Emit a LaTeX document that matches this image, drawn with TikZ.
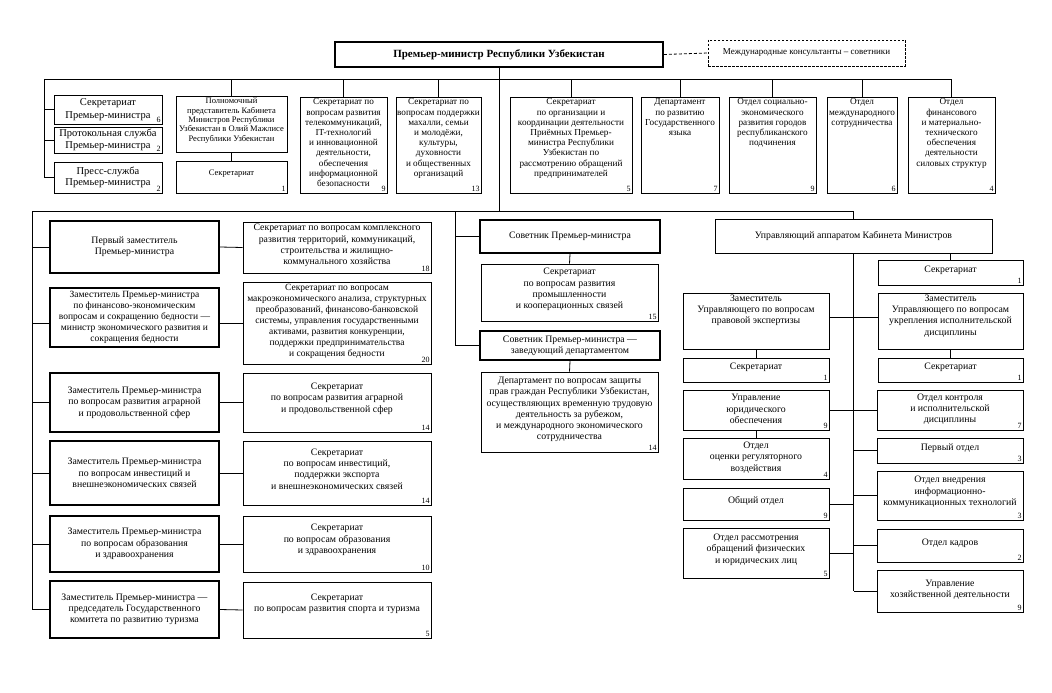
\documentclass[tikz,border=0pt]{standalone}
\usepackage{fontspec}
\setmainfont{Liberation Serif}
\usetikzlibrary{fit,calc}
\tikzset{
  bxthin/.style={draw, line width=0.8pt, inner sep=0pt},
  bxthick/.style={draw, line width=1.8pt, inner sep=0pt},
  bxdash/.style={draw, line width=0.9pt, dash pattern=on 2.5pt off 1.5pt, inner sep=0pt},
  num/.style={anchor=south east, inner sep=1.6pt, font=\fontsize{8}{9}\selectfont},
  fsT/.style={align=center, inner sep=2pt, font=\fontsize{9.2}{10.2}\selectfont},
  fsP/.style={align=center, inner sep=2pt, font=\fontsize{8.5}{9.4}\selectfont},
  fsL/.style={align=center, inner sep=2pt, font=\fontsize{10.5}{13}\selectfont},
  fsM/.style={align=center, inner sep=2pt, font=\fontsize{9.8}{11.3}\selectfont},
  fsS/.style={align=center, inner sep=2pt, font=\fontsize{9.5}{11.1}\selectfont},
  cur/.style={fsM},
  conn/.style={draw, line width=0.8pt},
}
\newcommand\bxc[8]{%
  \node[#1, fit={(#3,#4) (#5,#6)}] (#2) {};
  \node[cur] (#2-t) at (#2.center) {#7};
  \node[num] (#2-n) at (#2.south east) {#8};}
\newcommand\bxn[8]{%
  \node[#1, fit={(#3,#4) (#5,#6)}] (#2) {};
  \node[cur, anchor=north] (#2-t) at (#2.north) {#7};
  \node[num] (#2-n) at (#2.south east) {#8};}
\begin{document}
\begin{tikzpicture}[x=1pt, y=-1pt]
\fill[white] (0,0) rectangle (1052,693);
\useasboundingbox (0,0) rectangle (1052,693);

% ---------- top ----------
\node[bxthick, fit={(335,42) (663,67)}] (pm) {};
\node[font=\bfseries\fontsize{11}{13}\selectfont] (pm-t) at (pm.center) {Премьер-министр Республики Узбекистан};
\node[bxdash, fit={(708,40) (905,66)}] (cons) {};
\node[font=\fontsize{9}{10}\selectfont] (cons-t) at (cons.center) {Международные консультанты – советники};
\draw[line width=0.8pt, dash pattern=on 3pt off 2pt] (pm.east) -- (cons.west);

\coordinate (b1L) at (44,79);
\coordinate (b1LB) at (44,177);
\coordinate (b2L) at (32,211);
\coordinate (advx) at (455,211);

% top-left group
\tikzset{cur/.style={fsL}}
\bxc{bxthin}{sec6}{54}{95}{162}{124}{Секретариат\\Премьер-министра}{6}
\tikzset{cur/.style={fsL, font=\fontsize{10.5}{11.5}\selectfont}}
\bxc{bxthin}{prot}{54}{127}{162}{153}{Протокольная служба\\Премьер-министра}{2}
\bxc{bxthin}{press}{54}{162}{162}{193}{Пресс-служба\\Премьер-министра}{2}

\tikzset{cur/.style={fsP}}
\bxn{bxthin}{pol}{176}{96}{287}{152}{Полномочный\\представитель Кабинета\\Министров Республики\\Узбекистан в Олий Мажлисе\\Республики Узбекистан}{}
\tikzset{cur/.style={fsP, yshift=3pt}}
\bxc{bxthin}{polsec}{176}{161}{287}{193}{Секретариат}{1}

\tikzset{cur/.style={fsT}}
\bxn{bxthin}{tel}{300}{97}{387}{193}{Секретариат по\\вопросам развития\\телекоммуникаций,\\IT-технологий\\и инновационной\\деятельности,\\обеспечения\\информационной\\безопасности}{9}
\bxn{bxthin}{mah}{396}{97}{481}{193}{Секретариат по\\вопросам поддержки\\махалли, семьи\\и молодёжи,\\культуры,\\духовности\\и общественных\\организаций}{13}
\bxn{bxthin}{org}{510}{97}{632}{193}{Секретариат\\по организации и\\координации деятельности\\Приёмных Премьер-\\министра Республики\\Узбекистан по\\рассмотрению обращений\\предпринимателей}{5}
\bxn{bxthin}{dep}{641}{97}{719}{193}{Департамент\\по развитию\\Государственного\\языка}{7}
\bxn{bxthin}{soc}{729}{97}{816}{193}{Отдел социально-\\экономического\\развития городов\\республиканского\\подчинения}{9}
\bxn{bxthin}{intl}{827}{97}{897}{193}{Отдел\\международного\\сотрудничества}{6}
\bxn{bxthin}{fin}{908}{97}{995}{193}{Отдел\\финансового\\и материально-\\технического\\обеспечения\\деятельности\\силовых структур}{4}

% top connectors
\draw[conn] (b1L) -- (fin.north |- b1L);
\draw[conn] (b1L) -- (b1LB);
\draw[conn] (sec6.west -| b1L) -- (sec6.west);
\draw[conn] (prot.west -| b1L) -- (prot.west);
\draw[conn] (press.west -| b1L) -- (press.west);
\foreach \n in {pol,tel,mah,org,dep,soc,intl,fin}{
  \draw[conn] (\n.north) -- (\n.north |- b1L);
}
\draw[conn] (pol.south) -- (polsec.north);
\draw[conn] (pm.south) -- (pm.south |- b2L);

% ---------- left column ----------
\tikzset{cur/.style={fsM}}
\bxc{bxthick}{d1}{50}{221}{219}{273}{Первый заместитель\\Премьер-министра}{}
\tikzset{cur/.style={fsS}}
\bxc{bxthick}{d2}{50}{288}{219}{347}{Заместитель Премьер-министра\\по финансово-экономическим\\вопросам и сокращению бедности —\\министр экономического развития и\\сокращения бедности}{}
\tikzset{cur/.style={fsM}}
\bxc{bxthick}{d3}{50}{373}{219}{432}{Заместитель Премьер-министра\\по вопросам развития аграрной\\и продовольственной сфер}{}
\bxc{bxthick}{d4}{50}{441}{219}{505}{Заместитель Премьер-министра\\по вопросам инвестиций и\\внешнеэкономических связей}{}
\bxc{bxthick}{d5}{50}{516}{219}{572}{Заместитель Премьер-министра\\по вопросам образования\\и здравоохранения}{}
\bxc{bxthick}{d6}{50}{581}{219}{638}{Заместитель Премьер-министра —\\председатель Государственного\\комитета по развитию туризма}{}

\tikzset{cur/.style={fsM, yshift=2pt}}
\bxc{bxthin}{s1}{243}{222}{431}{273}{Секретариат по вопросам комплексного\\развития территорий, коммуникаций,\\строительства и жилищно-\\коммунального хозяйства}{18}
\tikzset{cur/.style={fsS, yshift=1.5pt}}
\bxc{bxthin}{s2}{243}{282}{431}{364}{Секретариат по вопросам\\макроэкономического анализа, структурных\\преобразований, финансово-банковской\\системы, управления государственными\\активами, развития конкуренции,\\поддержки предпринимательства\\и сокращения бедности}{20}
\tikzset{cur/.style={fsM, yshift=4pt}}
\bxc{bxthin}{s3}{243}{373}{431}{432}{Секретариат\\по вопросам развития аграрной\\и продовольственной сфер}{14}
\bxc{bxthin}{s4}{243}{441}{431}{505}{Секретариат\\по вопросам инвестиций,\\поддержки экспорта\\и внешнеэкономических связей}{14}
\bxc{bxthin}{s5}{243}{516}{431}{572}{Секретариат\\по вопросам образования\\и здравоохранения}{10}
\tikzset{cur/.style={fsM, yshift=6pt}}
\bxc{bxthin}{s6}{243}{582}{431}{638}{Секретариат\\по вопросам развития спорта и туризма}{5}

\draw[conn] (b2L) -- (b2L |- d6.west) -- (d6.west);
\draw[conn] (b2L |- d1.west) -- (d1.west);
\draw[conn] (b2L |- s2.west) -- (d2.west |- s2.west);
\draw[conn] (d2.east |- s2.west) -- (s2.west);
\foreach \k in {3,4,5}{
  \draw[conn] (b2L |- d\k.west) -- (d\k.west);
}
\foreach \k in {1,3,4,5,6}{
  \draw[conn] (d\k.east) -- (s\k.west);
}

% ---------- middle ----------
\tikzset{cur/.style={fsM}}
\bxc{bxthick}{a1}{480}{220}{660}{253}{Советник Премьер-министра}{}
\bxc{bxthick}{a2}{480}{331}{660}{360}{Советник Премьер-министра —\\заведующий департаментом}{}
\tikzset{cur/.style={fsM, yshift=3pt}}
\bxc{bxthin}{as1}{481}{264}{658}{321}{Секретариат\\по вопросам развития\\промышленности\\и кооперационных связей}{15}
\tikzset{cur/.style={fsM, yshift=2.5pt}}
\bxc{bxthin}{ad}{481}{372}{658}{452}{Департамент по вопросам защиты\\прав граждан Республики Узбекистан,\\осуществляющих временную трудовую\\деятельность за рубежом,\\и международного экономического\\сотрудничества}{14}

\draw[conn] (advx) -- (advx |- a2.west) -- (a2.west);
\draw[conn] (advx |- a1.west) -- (a1.west);
\draw[conn] (a1.south) -- (as1.north);
\draw[conn] (a2.south) -- (ad.north);

% ---------- right ----------
\tikzset{cur/.style={fsM}}
\bxc{bxthin}{upr}{715}{219}{992}{253}{Управляющий аппаратом Кабинета Министров}{}
\bxn{bxthin}{rdL}{683}{293}{829}{349}{Заместитель\\Управляющего по вопросам\\правовой экспертизы}{}
\bxn{bxthin}{rdR}{878}{293}{1023}{349}{Заместитель\\Управляющего по вопросам\\укрепления исполнительской\\дисциплины}{}
\tikzset{cur/.style={fsM, yshift=2.5pt}}
\bxc{bxthin}{rs1}{878}{260}{1023}{285}{Секретариат}{1}
\bxc{bxthin}{rsL}{683}{358}{829}{382}{Секретариат}{1}
\bxc{bxthin}{rsR}{878}{358}{1023}{382}{Секретариат}{1}
\bxc{bxthin}{perv}{877}{438}{1023}{463}{Первый отдел}{3}
\bxc{bxthin}{obs}{683}{488}{829}{520}{Общий отдел}{9}
\bxc{bxthin}{kad}{877}{529}{1023}{562}{Отдел кадров}{2}
\tikzset{cur/.style={fsM, yshift=1pt}}
\bxc{bxthin}{jur}{683}{390}{829}{430}{Управление\\юридического\\обеспечения}{9}
\bxc{bxthin}{con}{877}{390}{1023}{430}{Отдел контроля\\и исполнительской\\дисциплины}{7}
\bxc{bxthin}{ocen}{683}{438}{829}{479}{Отдел\\оценки регуляторного\\воздействия}{4}
\bxc{bxthin}{hoz}{877}{570}{1023}{612}{Управление\\хозяйственной деятельности}{9}
\tikzset{cur/.style={fsM, yshift=3.5pt}}
\bxc{bxthin}{ikt}{877}{471}{1023}{520}{Отдел внедрения\\информационно-\\коммуникационных технологий}{3}
\bxc{bxthin}{ras}{683}{528}{829}{578}{Отдел рассмотрения\\обращений физических\\и юридических лиц}{5}

\draw[conn] (b2L) -- (upr.north |- b2L) -- (upr.north);
\draw[conn] (upr.south) -- (upr.south |- hoz.west);
\draw[conn] (rs1.north) -- (rs1.north |- upr.south);
\draw[conn] (rdL.east |- 0,317) -- (rdR.west |- 0,317);
\draw[conn] (rdL.south) -- (rsL.north);
\draw[conn] (rdR.south) -- (rsR.north);
\draw[conn] (jur.east) -- (con.west);
\draw[conn] (jur.south) -- (ocen.north);
\foreach \n in {perv,ikt,kad,hoz}{
  \draw[conn] (\n.west) -- (\n.west -| upr.south);
}
\foreach \n in {obs,ras}{
  \draw[conn] (\n.east) -- (\n.east -| upr.south);
}
\end{tikzpicture}
\end{document}
